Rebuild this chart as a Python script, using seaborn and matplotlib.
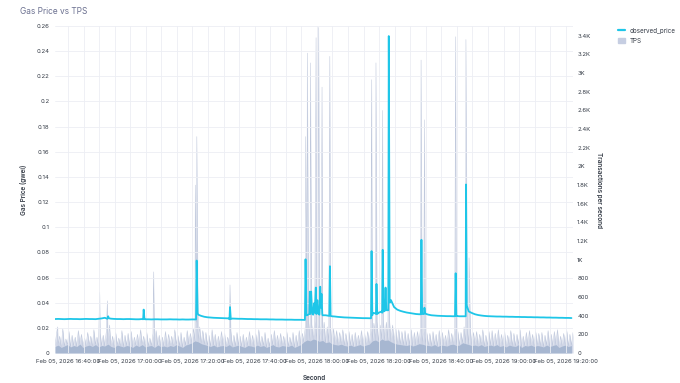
import pandas as pd
import matplotlib
matplotlib.use("Agg")
import matplotlib.pyplot as plt
import matplotlib.dates as mdates
from matplotlib.ticker import MultipleLocator, FuncFormatter
from matplotlib.lines import Line2D
from matplotlib.patches import Patch
import seaborn as sns

# per-minute samples starting at this timestamp
start = "2026-02-05 16:35:50"

# gas price baseline (gwei), one value per minute
price_base = [
    0.0270, 0.0271, 0.0270, 0.0269, 0.0270, 0.0271, 0.0270, 0.0270, 0.0269, 0.0270, 0.0271, 0.0270,
    0.0270, 0.0269, 0.0272, 0.0275, 0.0280, 0.0278, 0.0273, 0.0271, 0.0270, 0.0270, 0.0269, 0.0270,
    0.0270, 0.0269, 0.0268, 0.0268, 0.0270, 0.0268, 0.0268, 0.0267, 0.0268, 0.0268, 0.0267, 0.0267,
    0.0267, 0.0268, 0.0267, 0.0267, 0.0266, 0.0267, 0.0266, 0.0266, 0.0267, 0.0267, 0.0305, 0.0295,
    0.0288, 0.0284, 0.0282, 0.0280, 0.0279, 0.0278, 0.0277, 0.0276, 0.0275, 0.0274, 0.0273, 0.0272,
    0.0272, 0.0271, 0.0270, 0.0270, 0.0269, 0.0269, 0.0268, 0.0268, 0.0268, 0.0267, 0.0267, 0.0266,
    0.0266, 0.0266, 0.0265, 0.0265, 0.0265, 0.0264, 0.0264, 0.0264, 0.0263, 0.0300, 0.0310, 0.0305,
    0.0310, 0.0305, 0.0300, 0.0300, 0.0295, 0.0292, 0.0290, 0.0287, 0.0285, 0.0283, 0.0282, 0.0281,
    0.0280, 0.0279, 0.0278, 0.0277, 0.0277, 0.0276, 0.0300, 0.0315, 0.0320, 0.0330, 0.0335, 0.0340,
    0.0420, 0.0365, 0.0345, 0.0335, 0.0328, 0.0322, 0.0318, 0.0314, 0.0310, 0.0308, 0.0312, 0.0315,
    0.0305, 0.0300, 0.0298, 0.0296, 0.0295, 0.0294, 0.0293, 0.0293, 0.0292, 0.0294, 0.0292, 0.0292,
    0.0292, 0.0330, 0.0318, 0.0308, 0.0302, 0.0298, 0.0295, 0.0293, 0.0292, 0.0291, 0.0290, 0.0290,
    0.0289, 0.0289, 0.0288, 0.0288, 0.0287, 0.0287, 0.0286, 0.0286, 0.0285, 0.0285, 0.0284, 0.0284,
    0.0283, 0.0283, 0.0282, 0.0282, 0.0281, 0.0281, 0.0280, 0.0280, 0.0279, 0.0279, 0.0278,
]

# price spikes, with the readings just before / after each one
price_spike_times = [
    "16:52:40", "16:52:55", "16:53:10",
    "17:04:10", "17:04:20", "17:04:35",
    "17:21:10", "17:21:22", "17:21:40",
    "17:31:55", "17:32:05", "17:32:20",
    "17:56:10", "17:56:22", "17:56:38", "17:57:35", "17:57:45", "17:57:55", "17:58:10",
    "17:58:30", "17:59:05", "17:59:20", "17:59:40", "17:59:55", "18:00:10", "18:00:30",
    "18:01:05", "18:01:20", "18:01:30", "18:01:45",
    "18:04:00", "18:04:12", "18:04:25",
    "18:17:25", "18:17:35", "18:17:55", "18:19:00", "18:19:10", "18:19:25",
    "18:21:00", "18:21:10", "18:21:25", "18:22:05", "18:22:20",
    "18:22:58", "18:23:07", "18:23:25",
    "18:33:25", "18:33:37", "18:33:55", "18:34:25", "18:34:35", "18:34:55",
    "18:44:25", "18:44:37", "18:44:55",
    "18:47:45", "18:47:57", "18:48:10", "18:48:25",
]
price_spike_vals = [
    0.0272, 0.0292, 0.0276,
    0.0268, 0.0345, 0.0270,
    0.0267, 0.0735, 0.0320,
    0.0268, 0.0365, 0.0270,
    0.0263, 0.0745, 0.0300, 0.0310, 0.0488, 0.0330, 0.0488,
    0.0310, 0.0395, 0.0320, 0.0520, 0.0330, 0.0420, 0.0310,
    0.0527, 0.0360, 0.0470, 0.0310,
    0.0295, 0.0690, 0.0295,
    0.0276, 0.0810, 0.0320, 0.0310, 0.0549, 0.0310,
    0.0320, 0.0820, 0.0330, 0.0520, 0.0340,
    0.0340, 0.2520, 0.0400,
    0.0308, 0.0900, 0.0310, 0.0310, 0.0360, 0.0312,
    0.0293, 0.0634, 0.0294,
    0.0292, 0.1340, 0.0380, 0.0360,
]

# transactions per second: dense lower band and the minute's taller peaks
tps_low = [
    70, 85, 60, 75, 90, 65, 80, 70, 95, 60, 75, 85,
    70, 90, 65, 80, 75, 95, 70, 60, 85, 75, 65, 80,
    75, 60, 85, 70, 90, 65, 75, 80, 60, 85, 70, 75,
    65, 80, 70, 90, 75, 60, 85, 95, 110, 130, 120, 100,
    90, 80, 70, 85, 65, 75, 80, 70, 90, 65, 75, 85,
    70, 60, 80, 75, 65, 85, 70, 80, 60, 75, 90, 70,
    65, 80, 75, 70, 85, 60, 75, 90, 120, 140, 130, 150,
    140, 125, 135, 110, 120, 100, 90, 85, 95, 80, 75, 85,
    70, 80, 90, 75, 85, 95, 130, 140, 120, 150, 135, 140,
    120, 105, 95, 90, 85, 80, 90, 75, 85, 100, 95, 85,
    80, 75, 90, 70, 85, 80, 75, 90, 95, 80, 85, 110,
    100, 90, 80, 85, 75, 90, 70, 80, 85, 75, 90, 70,
    80, 65, 85, 75, 70, 90, 60, 80, 75, 85, 70, 80,
    75, 65, 85, 70, 80, 90, 60, 75, 85, 70, 80,
]
tps_high = [
    210, 180, 260, 150, 230, 190, 170, 240, 200, 160, 220, 180,
    250, 170, 210, 190, 230, 300, 180, 220, 160, 240, 190, 210,
    230, 170, 200, 250, 180, 220, 160, 210, 240, 190, 170, 230,
    200, 180, 250, 190, 220, 170, 240, 210, 260, 330, 280, 240,
    220, 190, 250, 200, 180, 230, 210, 170, 240, 190, 220, 180,
    200, 170, 230, 190, 210, 250, 180, 220, 160, 200, 240, 190,
    210, 180, 230, 170, 220, 190, 240, 210, 300, 340, 310, 350,
    320, 290, 330, 280, 300, 260, 240, 220, 250, 210, 230, 200,
    220, 190, 240, 210, 230, 250, 320, 340, 300, 360, 330, 350,
    300, 270, 250, 230, 240, 210, 250, 220, 230, 270, 240, 220,
    210, 230, 200, 240, 220, 190, 250, 210, 260, 230, 220, 280,
    260, 240, 220, 230, 200, 250, 190, 230, 240, 210, 250, 200,
    230, 190, 240, 210, 200, 250, 180, 220, 240, 200, 230, 210,
    220, 190, 240, 200, 230, 250, 180, 210, 240, 200, 220,
]

# isolated TPS bursts
tps_spike_times = [
    "16:36:40", "16:50:10", "16:52:40", "17:07:30", "17:20:55", "17:21:25", "17:32:05",
    "17:56:25", "17:56:55", "17:57:55", "17:59:45", "18:00:35", "18:01:40", "18:04:10",
    "18:17:35", "18:19:00", "18:21:05", "18:23:05", "18:33:30", "18:34:35", "18:44:35",
    "18:47:55", "18:48:55",
]
tps_spike_vals = [
    280, 650, 560, 870, 1800, 2320, 730,
    2320, 3215, 3110, 3380, 3490, 2850, 3180,
    2930, 3110, 2600, 1900, 3140, 2500, 3390,
    3360, 1020,
]

day = "2026-02-05 "
minutes = pd.date_range(start, periods=len(price_base), freq="min")

price_df = pd.concat([
    pd.DataFrame({"time": minutes, "price": price_base}),
    pd.DataFrame({"time": pd.to_datetime([day + t for t in price_spike_times]), "price": price_spike_vals}),
]).sort_values("time")

tps_df = pd.concat([
    pd.DataFrame({"time": minutes, "tps": tps_low}),
    pd.DataFrame({"time": minutes + pd.Timedelta(seconds=30), "tps": tps_high}),
    pd.DataFrame({"time": pd.to_datetime([day + t for t in tps_spike_times]), "tps": tps_spike_vals}),
]).sort_values("time")

sns.set_theme(style="whitegrid")
plt.rcParams["font.family"] = ["Inter", "DejaVu Sans"]

cyan = "#1ec6e8"
tps_color = "#c6cee2"
grid_color = "#eceef4"
text_color = "#333a45"

fig, ax = plt.subplots(figsize=(6.8, 3.83), dpi=100)
fig.subplots_adjust(left=55 / 680, right=573 / 680, top=1 - 26 / 383, bottom=1 - 353 / 383)
ax2 = ax.twinx()

# TPS on the right axis, drawn behind the price line
ax2.fill_between(tps_df["time"], tps_df["tps"], color=tps_color, alpha=0.8, lw=0)
sns.lineplot(data=tps_df, x="time", y="tps", ax=ax2, color="#bcc5da", lw=0.35,
             estimator=None, legend=False)
ax2.fill_between(minutes, tps_low, color="#9dafcc", alpha=0.8, lw=0)

sns.lineplot(data=price_df, x="time", y="price", ax=ax, color=cyan, lw=1.3,
             estimator=None, legend=False)

ax.set_zorder(ax2.get_zorder() + 1)
ax.patch.set_visible(False)

ax.set_xlim(tps_df["time"].min(), tps_df["time"].max())
ax.set_ylim(0, 0.26)
ax2.set_ylim(0, 3505)

ax.yaxis.set_major_locator(MultipleLocator(0.02))
ax.yaxis.set_major_formatter(FuncFormatter(lambda v, p: f"{round(v, 2):g}"))
ax2.yaxis.set_major_locator(MultipleLocator(200))
ax2.yaxis.set_major_formatter(FuncFormatter(lambda v, p: f"{v:.0f}" if v < 1000 else f"{v / 1000:g}K"))

ax.xaxis.set_major_locator(mdates.MinuteLocator(byminute=[0, 20, 40]))
ax.xaxis.set_minor_locator(mdates.MinuteLocator(byminute=range(0, 60, 5)))
ax.xaxis.set_major_formatter(mdates.DateFormatter("%b %d, %Y %H:%M:%S"))

ax.grid(which="both", axis="x", color=grid_color, lw=0.6)
ax.grid(which="major", axis="y", color=grid_color, lw=0.6)
ax2.grid(False)
for a in (ax, ax2):
    for s in a.spines.values():
        s.set_visible(False)
    a.tick_params(which="both", length=0, labelsize=4.3, colors=text_color)
ax.tick_params(axis="y", pad=4)
ax.tick_params(axis="x", pad=4)
ax2.tick_params(axis="y", pad=3)

ax.set_xlabel("Second", fontsize=4.6, fontweight="semibold", color=text_color)
ax.set_ylabel("Gas Price (gwei)", fontsize=4.6, fontweight="semibold", color=text_color)
ax2.set_ylabel("Transactions per second", fontsize=4.6, fontweight="semibold", color=text_color,
               rotation=-90)
ax.xaxis.set_label_coords(0.5, -22 / 327)
ax.yaxis.set_label_coords(-28 / 518, 0.5)
ax2.yaxis.set_label_coords(1 + 29 / 518, 0.5)

fig.text(20 / 680, 1 - 12 / 383, "Gas Price vs TPS", fontsize=6, color="#6b7090", va="center")

handles = [Line2D([], [], color=cyan, lw=1.6), Patch(color=tps_color)]
fig.legend(handles, ["observed_price", "TPS"], loc="upper left", bbox_to_anchor=(612 / 680, 1 - 22 / 383),
           frameon=False, fontsize=4.5, handlelength=1.2, handleheight=0.9, labelspacing=0.7,
           labelcolor=text_color)

plt.savefig("out.png", dpi=100)
plt.close()
